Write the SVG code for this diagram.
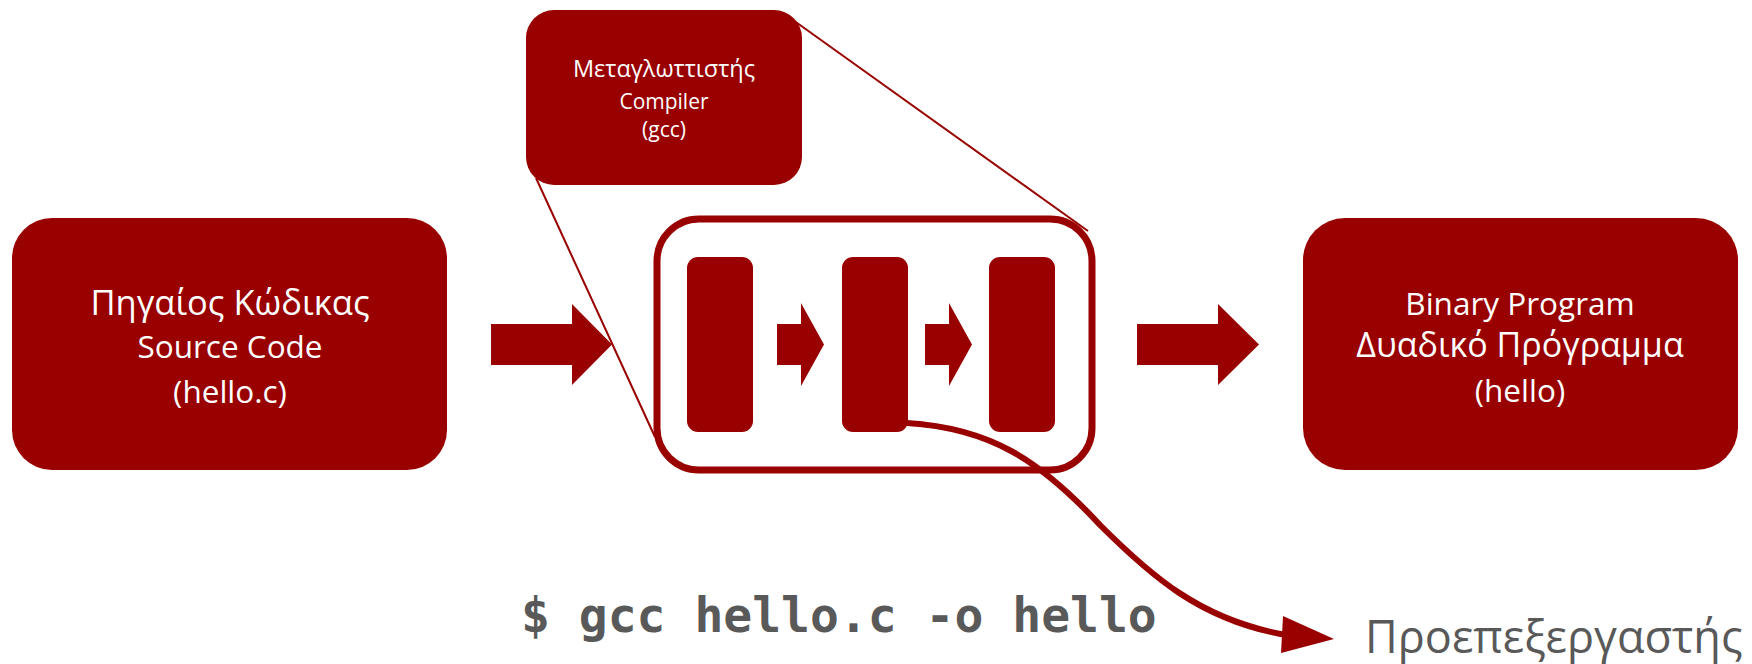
<svg xmlns="http://www.w3.org/2000/svg" width="1752" height="664" viewBox="0 0 1752 664">
<style>
.box{fill:#990000}
.wt{fill:#ffffff;font-family:"Open Sans","Noto Sans",sans-serif;text-anchor:middle}
.gray{fill:#595959;font-family:"Open Sans","Noto Sans",sans-serif}
.mono{fill:#595959;font-family:"DejaVu Sans Mono","Liberation Mono",monospace;font-weight:bold}
.thin{stroke:#990000;stroke-width:2;fill:none}
.arr{fill:#990000}
</style>
<rect width="1752" height="664" fill="#ffffff"/>
<g id="source">
<rect class="box" x="12" y="218" width="435" height="252" rx="40"/>
<text class="wt" x="230" y="315" font-size="34.5">Πηγαίος Κώδικας</text>
<text class="wt" x="230" y="358" font-size="31.5">Source Code</text>
<text class="wt" x="230" y="403" font-size="31.5">(hello.c)</text>
</g>
<g id="compiler">
<rect class="box" x="526" y="10" width="276" height="175" rx="28"/>
<text class="wt" x="664" y="77" font-size="23.5">Μεταγλωττιστής</text>
<text class="wt" x="664" y="109" font-size="21">Compiler</text>
<text class="wt" x="664" y="137" font-size="21">(gcc)</text>
</g>
<g id="pipeline">
<rect x="657" y="219" width="435" height="251" rx="42" fill="none" stroke="#990000" stroke-width="7"/>
<rect class="box" x="687" y="257" width="66" height="175" rx="11"/>
<rect class="box" x="842" y="257" width="66" height="175" rx="11"/>
<rect class="box" x="989" y="257" width="66" height="175" rx="11"/>
<polygon class="arr" points="777,324 801,324 801,303 824,344.5 801,386 801,365 777,365"/>
<polygon class="arr" points="925,324 949,324 949,303 972,344.5 949,386 949,365 925,365"/>
</g>
<g id="binary">
<rect class="box" x="1303" y="218" width="435" height="252" rx="42"/>
<text class="wt" x="1520" y="315" font-size="31.5">Binary Program</text>
<text class="wt" x="1520" y="357" font-size="34">Δυαδικό Πρόγραμμα</text>
<text class="wt" x="1520" y="402" font-size="31.5">(hello)</text>
</g>
<g id="command">
<text class="mono" x="521" y="632" font-size="48">$ gcc hello.c -o hello</text>
</g>
<g id="preprocessor">
<text class="gray" x="1365" y="653" font-size="45">Προεπεξεργαστής</text>
</g>
<g id="connectors">
<line class="thin" x1="793" y1="20" x2="1088" y2="231"/>
<line class="thin" x1="536" y1="178" x2="655" y2="437"/>
<polygon class="arr" points="491,324 572,324 572,304 612,344.5 572,385 572,365 491,365"/>
<polygon class="arr" points="1137,324 1218,324 1218,304 1259,344.5 1218,385 1218,365 1137,365"/>
<path d="M907,423 C990,428 1040,460 1100,525 C1150,575 1200,620 1286,635" fill="none" stroke="#990000" stroke-width="6"/>
<polygon class="arr" points="1334,639 1283,616 1281,653"/>
</g>
</svg>
